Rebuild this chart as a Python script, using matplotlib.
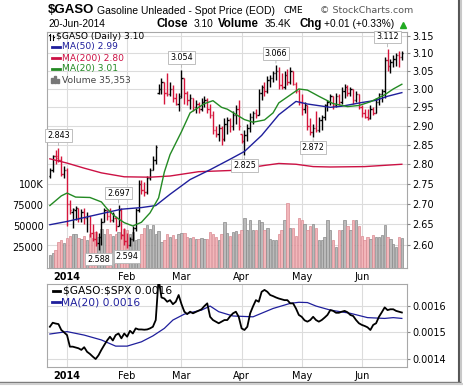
import matplotlib
matplotlib.use('Agg')
import matplotlib.pyplot as plt
from matplotlib.lines import Line2D
from matplotlib.patches import Rectangle
from matplotlib.transforms import blended_transform_factory
from matplotlib.ticker import FixedLocator, NullLocator, FixedFormatter
import numpy as np

plt.rcParams['font.family'] = ['DejaVu Sans']

# ---------------- data (daily, 23-Dec-2013 .. 20-Jun-2014) ----------------
month_idx = [6, 27, 46, 67, 88, 109]
month_labels = ['2014', 'Feb', 'Mar', 'Apr', 'May', 'Jun']

opens = [2.770, 2.785, 2.820, 2.820, 2.810, 2.775, 2.785, 2.700, 2.680, 2.685,
         2.690, 2.665, 2.680, 2.665, 2.670, 2.630, 2.615, 2.605, 2.620, 2.655,
         2.685, 2.670, 2.660, 2.665, 2.645, 2.685, 2.625, 2.610, 2.600, 2.615,
         2.640, 2.685, 2.750, 2.735, 2.730, 2.765, 2.785, 2.810, 2.990, 3.000,
         3.020, 2.990, 2.985, 3.000, 2.975, 2.960, 2.980, 3.030, 2.990, 2.970,
         2.975, 2.950, 2.960, 2.945, 2.965, 2.970, 2.945, 2.930, 2.890, 2.880,
         2.895, 2.865, 2.905, 2.915, 2.900, 2.930, 2.945, 2.880, 2.860, 2.875,
         2.895, 2.925, 2.935, 2.930, 2.990, 3.005, 2.995, 3.025, 3.030, 3.045,
         3.050, 3.010, 3.005, 3.040, 3.020, 3.050, 3.015, 2.995, 2.965, 2.945,
         2.955, 2.900, 2.885, 2.895, 2.890, 2.915, 2.925, 2.955, 2.965, 2.980,
         2.955, 2.980, 2.965, 2.995, 3.005, 2.990, 3.000, 2.970, 2.985, 2.950,
         2.935, 2.925, 2.920, 2.945, 2.935, 2.965, 2.985, 2.995, 3.080, 3.065,
         3.075, 3.085, 3.095, 3.090]
highs = [2.790, 2.825, 2.837, 2.843, 2.820, 2.795, 2.790, 2.710, 2.690, 2.695,
         2.690, 2.687, 2.690, 2.680, 2.670, 2.650, 2.635, 2.630, 2.665, 2.690,
         2.685, 2.690, 2.680, 2.670, 2.697, 2.690, 2.640, 2.630, 2.620, 2.645,
         2.690, 2.760, 2.760, 2.755, 2.770, 2.790, 2.820, 2.850, 3.015, 3.030,
         3.020, 3.045, 3.020, 3.010, 2.990, 2.990, 3.054, 3.030, 2.995, 2.985,
         2.975, 2.970, 2.965, 2.975, 2.980, 2.975, 2.960, 2.940, 2.900, 2.905,
         2.900, 2.920, 2.925, 2.920, 2.940, 2.955, 2.970, 2.880, 2.890, 2.905,
         2.935, 2.940, 2.945, 3.000, 3.010, 3.020, 3.035, 3.040, 3.050, 3.066,
         3.060, 3.045, 3.050, 3.055, 3.060, 3.050, 3.020, 3.000, 2.985, 2.965,
         2.955, 2.920, 2.905, 2.940, 2.925, 2.930, 2.960, 2.970, 2.985, 2.980,
         2.990, 2.985, 3.005, 3.015, 3.010, 3.005, 3.000, 2.995, 2.985, 2.955,
         2.945, 2.945, 2.955, 2.950, 2.975, 2.990, 3.000, 3.090, 3.112, 3.085,
         3.095, 3.100, 3.105, 3.105]
lows = [2.765, 2.780, 2.800, 2.805, 2.770, 2.765, 2.645, 2.675, 2.640, 2.660,
        2.655, 2.655, 2.650, 2.632, 2.620, 2.610, 2.598, 2.588, 2.600, 2.655,
        2.660, 2.655, 2.655, 2.635, 2.645, 2.615, 2.600, 2.594, 2.598, 2.610,
        2.635, 2.680, 2.725, 2.720, 2.725, 2.760, 2.785, 2.800, 2.985, 2.985,
        2.960, 2.980, 2.980, 2.965, 2.955, 2.940, 2.975, 2.960, 2.955, 2.945,
        2.940, 2.935, 2.935, 2.940, 2.950, 2.935, 2.920, 2.880, 2.870, 2.860,
        2.850, 2.860, 2.880, 2.885, 2.890, 2.905, 2.890, 2.855, 2.825, 2.860,
        2.885, 2.905, 2.920, 2.930, 2.970, 2.980, 2.990, 3.005, 3.020, 3.025,
        3.000, 3.000, 3.000, 3.010, 3.015, 3.010, 2.990, 2.955, 2.930, 2.935,
        2.890, 2.875, 2.872, 2.885, 2.885, 2.890, 2.915, 2.940, 2.955, 2.945,
        2.950, 2.955, 2.960, 2.975, 2.980, 2.980, 2.960, 2.965, 2.945, 2.925,
        2.920, 2.915, 2.918, 2.930, 2.935, 2.955, 2.965, 2.975, 3.050, 3.045,
        3.060, 3.065, 3.060, 3.080]
closes = [2.785, 2.820, 2.815, 2.810, 2.775, 2.785, 2.700, 2.685, 2.687, 2.690,
          2.665, 2.680, 2.665, 2.670, 2.630, 2.615, 2.605, 2.620, 2.655, 2.685,
          2.670, 2.660, 2.675, 2.645, 2.685, 2.625, 2.610, 2.600, 2.615, 2.640,
          2.685, 2.750, 2.735, 2.730, 2.765, 2.785, 2.810, 2.845, 3.000, 3.020,
          2.990, 2.985, 3.000, 2.975, 2.960, 2.975, 3.030, 2.990, 2.970, 2.975,
          2.950, 2.960, 2.945, 2.965, 2.970, 2.945, 2.930, 2.890, 2.880, 2.895,
          2.865, 2.905, 2.915, 2.900, 2.930, 2.945, 2.900, 2.860, 2.875, 2.895,
          2.925, 2.935, 2.930, 2.990, 3.005, 2.995, 3.025, 3.030, 3.045, 3.050,
          3.010, 3.005, 3.040, 3.020, 3.050, 3.015, 2.995, 2.965, 2.945, 2.955,
          2.900, 2.885, 2.895, 2.890, 2.915, 2.925, 2.955, 2.965, 2.980, 2.955,
          2.980, 2.965, 2.995, 3.005, 2.990, 3.000, 2.970, 2.985, 2.950, 2.935,
          2.925, 2.920, 2.945, 2.935, 2.965, 2.985, 2.995, 3.080, 3.065, 3.075,
          3.085, 3.095, 3.090, 3.100]
volumes = [15000, 18000, 22000, 31000, 33000, 30000, 36000, 38000, 40000, 41000,
           36000, 35000, 38000, 33000, 41000, 36000, 43000, 37000, 47000, 40000,
           47000, 41000, 38000, 41000, 43000, 40000, 46000, 45000, 41000, 43000,
           33000, 35000, 41000, 48000, 51000, 46000, 51000, 41000, 44000, 31000,
           33000, 41000, 37000, 39000, 35000, 41000, 42000, 42000, 37000, 36000,
           37000, 35000, 34000, 36000, 35000, 35000, 43000, 41000, 37000, 33000,
           41000, 55000, 42000, 38000, 43000, 44000, 41000, 45000, 59000, 45000,
           57000, 45000, 45000, 57000, 55000, 45000, 48000, 34000, 33000, 33000,
           40000, 45000, 57000, 77000, 48000, 48000, 38000, 60000, 57000, 52000,
           45000, 50000, 52000, 48000, 33000, 33000, 37000, 57000, 45000, 33000,
           25000, 45000, 45000, 57000, 50000, 45000, 57000, 57000, 50000, 38000,
           33000, 37000, 35000, 39000, 37000, 37000, 39000, 51000, 37000, 35000,
           29000, 25000, 37000, 35353]

ma200_idx = [0, 6, 12, 18, 26, 35, 42, 52, 63, 69, 75, 80, 86, 92, 98, 110, 123]
ma200_val = [2.814, 2.803, 2.790, 2.778, 2.768, 2.767, 2.770, 2.781, 2.784, 2.790,
             2.797, 2.802, 2.800, 2.794, 2.793, 2.794, 2.800]
ma50_idx = [0, 6, 18, 25, 32, 37, 42, 49, 56, 63, 68, 74, 80, 86, 90, 98, 102, 109, 114, 118, 123]
ma50_val = [2.649, 2.657, 2.676, 2.687, 2.691, 2.696, 2.724, 2.761, 2.786, 2.813, 2.833,
            2.875, 2.930, 2.966, 2.959, 2.950, 2.953, 2.963, 2.969, 2.980, 2.990]
ma20_idx = [0, 4, 6, 9, 14, 18, 20, 23, 26, 29, 32, 35, 38, 40, 42, 46, 49, 54, 57, 60,
            62, 68, 71, 75, 78, 80, 87, 90, 94, 99, 104, 108, 112, 117, 120, 123]
ma20_val = [2.696, 2.720, 2.727, 2.717, 2.716, 2.705, 2.688, 2.668, 2.654, 2.646,
            2.655, 2.678, 2.715, 2.780, 2.825, 2.885, 2.935, 2.960, 2.968, 2.950,
            2.945, 2.917, 2.910, 2.916, 2.935, 2.962, 3.000, 2.997, 2.980, 2.960,
            2.952, 2.955, 2.965, 2.984, 3.000, 3.013]

ratio = [0.001521, 0.001536, 0.001533, 0.001531, 0.001509, 0.001500, 0.001490, 0.001447, 0.001447, 0.001444,
         0.001441, 0.001435, 0.001445, 0.001428, 0.001420, 0.001410, 0.001401, 0.001415, 0.001435, 0.001453,
         0.001470, 0.001484, 0.001470, 0.001490, 0.001496, 0.001478, 0.001496, 0.001484, 0.001506, 0.001496,
         0.001515, 0.001511, 0.001511, 0.001510, 0.001511, 0.001515, 0.001521, 0.001546, 0.001700, 0.001630,
         0.001626, 0.001614, 0.001620, 0.001605, 0.001614, 0.001639, 0.001605, 0.001577, 0.001568, 0.001577,
         0.001571, 0.001576, 0.001581, 0.001586, 0.001598, 0.001608, 0.001558, 0.001546, 0.001540, 0.001534,
         0.001540, 0.001546, 0.001546, 0.001560, 0.001571, 0.001577, 0.001558, 0.001515, 0.001509, 0.001521,
         0.001571, 0.001597, 0.001620, 0.001614, 0.001651, 0.001658, 0.001651, 0.001639, 0.001635, 0.001630,
         0.001626, 0.001623, 0.001620, 0.001620, 0.001608, 0.001608, 0.001589, 0.001565, 0.001558, 0.001545,
         0.001540, 0.001546, 0.001558, 0.001546, 0.001540, 0.001546, 0.001555, 0.001565, 0.001583, 0.001580,
         0.001573, 0.001573, 0.001577, 0.001580, 0.001575, 0.001565, 0.001561, 0.001546, 0.001534, 0.001528,
         0.001524, 0.001519, 0.001509, 0.001528, 0.001534, 0.001558, 0.001575, 0.001593, 0.001583, 0.001586,
         0.001586, 0.001580, 0.001577, 0.001574]
ratio_ma_idx = [0, 6, 12, 18, 23, 27, 32, 36, 40, 43, 47, 53, 56, 59, 64, 71, 78, 84, 87,
                90, 93, 98, 105, 111, 117, 120, 123]
ratio_ma_val = [0.001494, 0.001503, 0.001490, 0.001472, 0.001449, 0.001449, 0.001465, 0.001487,
                0.001515, 0.001546, 0.001568, 0.001583, 0.001598, 0.001577, 0.001561, 0.001558,
                0.001589, 0.001608, 0.001612, 0.001611, 0.001598, 0.001583, 0.001571, 0.001555,
                0.001552, 0.001555, 0.001552]

price_ticks = [2.60, 2.65, 2.70, 2.75, 2.80, 2.85, 2.90, 2.95, 3.00, 3.05, 3.10, 3.15]
vol_ticks = [25000, 50000, 75000, 100000]
vol_tick_labels = ['25000', '50000', '75000', '100K']
ratio_ticks = [0.0014, 0.0015, 0.0016]
ratio_tick_labels = ['0.0014', '0.0015', '0.0016']

# labelled extremes: (bar index, 'high'/'low')
marks = [(3, 'high'), (24, 'high'), (17, 'low'), (27, 'low'), (46, 'high'),
         (68, 'low'), (79, 'high'), (92, 'low'), (118, 'high')]

# ---------------- figure ----------------
n = len(closes)
x = np.arange(n)
up = [True] + [closes[i] >= closes[i - 1] for i in range(1, n)]

W, H = 464, 387
fig = plt.figure(figsize=(W / 100, H / 100), dpi=100)
fig.patch.set_facecolor('white')


def fx(px):
    return px / W


def fy(py):
    return 1 - py / H


L, R = 47, 407
ax_vol = fig.add_axes([fx(L), fy(268), fx(R) - fx(L), fy(32.3) - fy(268)])
ax = ax_vol.twinx()
ax2 = fig.add_axes([fx(L), fy(366.7), fx(R) - fx(L), fy(284) - fy(366.7)])
xlim = (-1.0, 124.8)

RED = '#d6163c'
NAVY = '#1f1f9c'
GREEN = '#238a23'
MA200C = '#cc1144'
GRID = '#dcdcdc'
SPINE = '#a8a8a8'

# volume
vol_face = ['#bababa' if u else '#f2b6ba' for u in up]
vol_edge = ['#8a8a8a' if u else '#d98a92' for u in up]
ax_vol.bar(x, volumes, width=0.82, color=vol_face, edgecolor=vol_edge, linewidth=0.5, zorder=2)
ax_vol.set_ylim(0, 280600)
ax_vol.set_xlim(*xlim)
ax_vol.set_yticks(vol_ticks)
ax_vol.set_yticklabels(vol_tick_labels)
ax_vol.tick_params(axis='y', length=0, pad=2.5, labelsize=7)
ax_vol.set_xticks(month_idx)
ax_vol.set_xticklabels(month_labels)
ax_vol.tick_params(axis='x', length=0, pad=3, labelsize=7)
ax_vol.get_xticklabels()[0].set_fontweight('bold')

# grid (drawn beneath volume)
for m in month_idx:
    ax_vol.axvline(m, color=GRID, lw=0.8, zorder=0)
bt = blended_transform_factory(ax_vol.transAxes, ax.transData)
for p in price_ticks:
    ax_vol.add_line(Line2D([0, 1], [p, p], transform=bt, color=GRID, lw=0.8, zorder=0))

# price OHLC
bar_cols = ['#000000' if u else RED for u in up]
ax.vlines(x, lows, highs, colors=bar_cols, lw=1.0, zorder=3)
ax.hlines(opens, x - 0.45, x, colors=bar_cols, lw=1.0, zorder=3)
ax.hlines(closes, x, x + 0.45, colors=bar_cols, lw=1.0, zorder=3)
ax.plot(ma200_idx, ma200_val, color=MA200C, lw=1.0, zorder=4)
ax.plot(ma50_idx, ma50_val, color=NAVY, lw=1.0, zorder=4)
ax.plot(ma20_idx, ma20_val, color=GREEN, lw=1.0, zorder=4)
ax.set_yscale('log')
ax.set_ylim(2.546, 3.16)
ax.set_xlim(*xlim)
ax.yaxis.set_major_locator(FixedLocator(price_ticks))
ax.yaxis.set_major_formatter(FixedFormatter([f'{p:.2f}' for p in price_ticks]))
ax.yaxis.set_minor_locator(NullLocator())
ax.tick_params(axis='y', which='major', length=2.5, pad=1.5, labelsize=7, color='#888888')

for i, kind in marks:
    if kind == 'high':
        val, dy = highs[i], 12
    else:
        val = lows[i]
        dy = -9 if val < 2.6 else -11
    ax.annotate(f'{val:.3f}', xy=(i, val), xytext=(0, dy), textcoords='offset pixels',
                ha='center', va='center', fontsize=5.8, zorder=6,
                bbox=dict(boxstyle='square,pad=0.22', fc='white', ec='#b4b4b4', lw=0.6),
                arrowprops=dict(arrowstyle='-', color='#b4b4b4', lw=0.6, shrinkA=0, shrinkB=1.5))

for sp in ax.spines.values():
    sp.set_visible(False)
for sp in ax_vol.spines.values():
    sp.set_color(SPINE)
    sp.set_linewidth(0.8)

# lower panel
for m in month_idx:
    ax2.axvline(m, color=GRID, lw=0.8, zorder=0)
for r in ratio_ticks:
    ax2.axhline(r, color=GRID, lw=0.8, zorder=0)
ax2.plot(ratio_ma_idx, ratio_ma_val, color=NAVY, lw=0.9, zorder=2)
ax2.plot(x, ratio, color='black', lw=1.3, zorder=3)
ax2.set_xlim(*xlim)
ax2.set_ylim(0.0013725, 0.00168)
ax2.yaxis.tick_right()
ax2.set_yticks(ratio_ticks)
ax2.set_yticklabels(ratio_tick_labels)
ax2.tick_params(axis='y', length=2.5, pad=1.5, labelsize=7, color='#888888')
ax2.set_xticks(month_idx)
ax2.set_xticklabels(month_labels)
ax2.tick_params(axis='x', length=0, pad=3, labelsize=7)
ax2.get_xticklabels()[0].set_fontweight('bold')
for sp in ax2.spines.values():
    sp.set_color(SPINE)
    sp.set_linewidth(0.8)

# ---------------- legends ----------------
leg_fs = 6.6
# OHLC icon
fig.add_artist(Line2D([fx(50.5)] * 2, [fy(33.5), fy(39.5)], color='black', lw=0.8))
fig.add_artist(Line2D([fx(49.3), fx(50.5)], [fy(35)] * 2, color='black', lw=0.8))
fig.add_artist(Line2D([fx(53.3)] * 2, [fy(34.5), fy(40)], color='black', lw=0.8))
fig.add_artist(Line2D([fx(53.3), fx(54.5)], [fy(37)] * 2, color='black', lw=0.8))
fig.text(fx(56), fy(36.5), '\\$GASO (Daily) 3.10', fontsize=leg_fs, va='center', ha='left')
rows = [(47, NAVY, 'MA(50) 2.99'), (58, MA200C, 'MA(200) 2.80'), (69, GREEN, 'MA(20) 3.01')]
for yy, col, txt in rows:
    fig.add_artist(Line2D([fx(51.5), fx(60)], [fy(yy)] * 2, color=col, lw=2))
    fig.text(fx(62.5), fy(yy), txt, fontsize=leg_fs, color=col, va='center', ha='left')
for bx, bh in [(51.3, 5), (54.3, 7), (57.3, 4.5)]:
    fig.add_artist(Rectangle((fx(bx), fy(83)), fx(2.2), fy(83 - bh) - fy(83), color='#777777'))
fig.text(fx(62.5), fy(80), 'Volume 35,353', fontsize=leg_fs, color='#444444', va='center', ha='left')

fig.add_artist(Line2D([fx(53), fx(60.5)], [fy(290.7)] * 2, color='black', lw=2))
fig.text(fx(63), fy(290.7), '\\$GASO:\\$SPX 0.0016', fontsize=7.7, va='center', ha='left')
fig.add_artist(Line2D([fx(52), fx(60)], [fy(302.3)] * 2, color=NAVY, lw=2))
fig.text(fx(61.5), fy(302.3), 'MA(20) 0.0016', fontsize=7.7, color=NAVY, va='center', ha='left')

# ---------------- header ----------------
fig.text(fx(48), fy(10), '\\$GASO', fontsize=9.5, weight='bold', family='Liberation Sans', va='center')
fig.text(fx(97), fy(10.5), 'Gasoline Unleaded - Spot Price (EOD)', fontsize=7.5,
         family='Liberation Sans', va='center')
fig.text(fx(284), fy(10.5), 'CME', fontsize=6.5, va='center')
fig.text(fx(320), fy(10.5), '© StockCharts.com', fontsize=6.8, color='#555555', va='center')
fig.text(fx(48), fy(24), '20-Jun-2014', fontsize=7.3, va='center', family='Liberation Sans')
hdr = [(157, 'Close', True), (194, '3.10', False), (218, 'Volume', True), (265, '35.4K', False),
       (300, 'Chg', True), (324, '+0.01 (+0.33%)', False)]
for px, txt, b in hdr:
    fig.text(fx(px), fy(24), txt, fontsize=8.3 if b else 7.3, weight='bold' if b else 'normal',
             family='Liberation Sans', va='center')
fig.add_artist(Line2D([fx(403.5)], [fy(24.5)], marker='^', color='#22aa22', markersize=4.2,
                      linestyle='none'))

# screenshot frame
fig.add_artist(Line2D([fx(459.5)] * 2, [fy(0), fy(382)], color='#555555', lw=1.5))
fig.add_artist(Line2D([fx(461.5)] * 2, [fy(0), fy(384)], color='#c8c8c8', lw=1.5))
fig.add_artist(Line2D([fx(0), fx(460)], [fy(382)] * 2, color='#7a7a7a', lw=1.0))
fig.add_artist(Line2D([fx(0), fx(462)], [fy(384)] * 2, color='#cfcfcf', lw=1.5))

fig.savefig('out.png', dpi=100)
